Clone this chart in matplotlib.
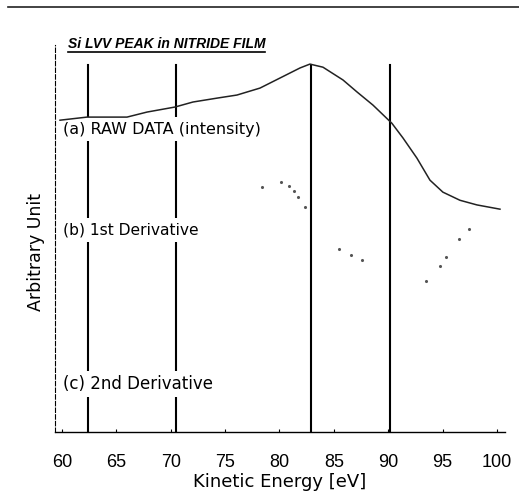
import matplotlib.pyplot as plt
from matplotlib.lines import Line2D

# Datos (escala arbitraria 0-100)
energia_raw = [59.82, 62.30, 64.41, 65.98, 67.82, 70.39, 72.05, 74.25, 76.09,
               78.21, 80.05, 81.89, 82.80, 84.00, 85.84, 87.13, 88.60, 90.34,
               91.36, 92.64, 93.84, 95.03, 96.60, 98.16, 100.28]
intensidad_raw = [80.6, 81.4, 81.4, 81.4, 82.7, 84.0, 85.3, 86.3, 87.1,
                  88.9, 91.5, 94.1, 95.1, 94.3, 91.0, 87.9, 84.5, 79.8,
                  76.0, 70.8, 65.1, 62.0, 59.9, 58.7, 57.6]

# Restos de la 1a derivada (puntos sueltos visibles en el escaneo)
energia_der = [78.39, 80.14, 80.87, 81.33, 81.70, 82.34, 85.47, 86.57, 87.59,
               93.47, 94.76, 95.31, 96.51, 97.43]
valor_der = [63.3, 64.6, 63.6, 62.3, 60.7, 58.1, 47.3, 45.7, 44.4,
             39.0, 42.9, 45.2, 49.9, 52.5]

# Energias de los picos marcados
picos = [62.4, 70.5, 82.9, 90.2]

etiquetas = ['(a) RAW DATA (intensity)', '(b) 1st Derivative', '(c) 2nd Derivative']
pos_etiquetas = [78.3, 52.2, 12.4]
tam_etiquetas = [11.5, 11.2, 12.0]

fig = plt.figure(figsize=(5.19, 4.96), dpi=100)
ax = fig.add_axes([0.106, 0.129, 0.867, 0.780])

for e in picos:
    ax.plot([e, e], [94.8, 0], color='black', lw=1.5, zorder=1)

ax.plot(energia_raw, intensidad_raw, color='#222222', lw=1.1, zorder=4)
ax.scatter(energia_der, valor_der, s=1.5, color='#555555', zorder=4)

for texto, y, tam in zip(etiquetas, pos_etiquetas, tam_etiquetas):
    ax.text(60.1, y, texto, fontsize=tam, va='center', ha='left',
            bbox=dict(facecolor='white', edgecolor='none', pad=3), zorder=3)

ax.set_xlim(59.36, 100.74)
ax.set_ylim(0, 100)
ax.set_xticks([60, 65, 70, 75, 80, 85, 90, 95, 100])
ax.set_xticklabels(['60', '65', '70', '75', '80', '85', '90', '95', '100'],
                   fontdict={'family': 'Liberation Sans', 'size': 13})
ax.set_yticks([])
ax.tick_params(axis='x', direction='in', length=2, pad=16)
ax.spines['top'].set_visible(False)
ax.spines['right'].set_visible(False)
ax.spines['left'].set_linestyle((0, (4, 2)))
ax.spines['left'].set_linewidth(0.8)
ax.spines['bottom'].set_linewidth(1.0)
ax.set_xlabel('Kinetic Energy [eV]', fontsize=13, labelpad=1)

fig.text(36 / 519, 1 - 252 / 496, 'Arbitrary Unit', fontsize=12.5,
         rotation=90, ha='center', va='center')

# Titulo subrayado
fig.text(0.131, 0.911, 'Si LVV PEAK in NITRIDE FILM', fontsize=10,
         family='Liberation Sans', fontweight='bold', style='italic',
         va='center', ha='left')
fig.add_artist(Line2D([0.131, 0.511], [0.895, 0.895], color='black', lw=1.2))

# Linea superior del escaneo
fig.add_artist(Line2D([0.015, 1.0], [0.986, 0.986], color='#222222', lw=1.2))

fig.savefig('out.png', dpi=100)
